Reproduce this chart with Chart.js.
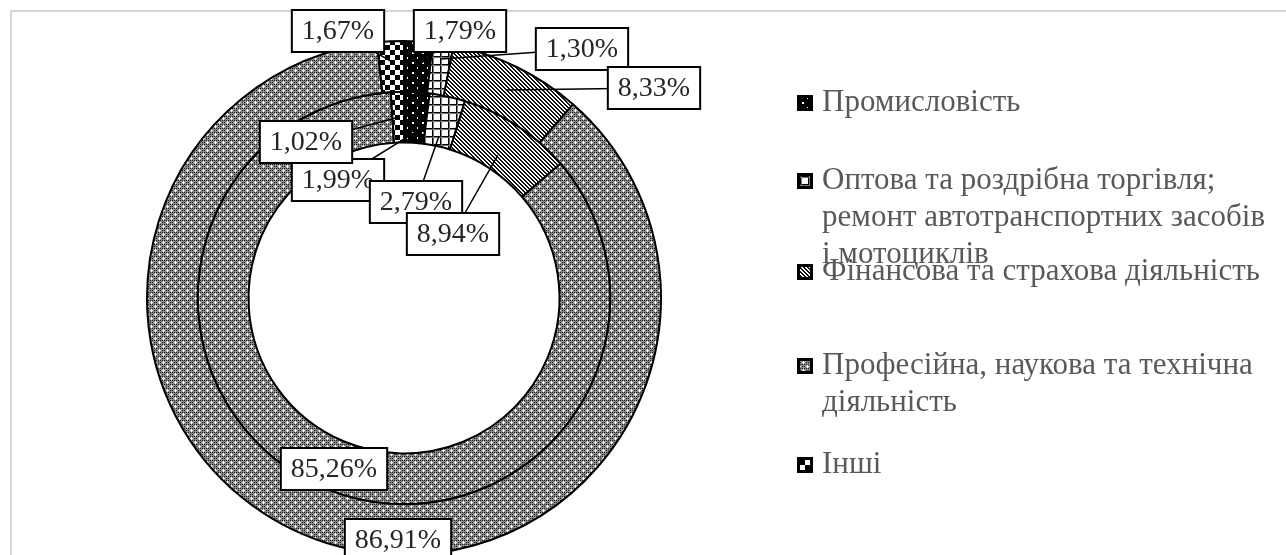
<!DOCTYPE html>
<html>
<head>
<meta charset="utf-8">
<script src="https://cdn.jsdelivr.net/npm/chart.js@4.4.0/dist/chart.umd.min.js"></script>
<style>
  html, body { margin: 0; padding: 0; background: #fff; overflow: hidden; }
  #wrap { position: relative; width: 1286px; height: 555px; overflow: hidden; }
  #frame { position: absolute; left: 10px; top: 10px; width: 1300px; height: 600px; border: 2px solid #d6d6d6; }
  canvas { position: absolute; left: 0; top: 0; }
</style>
</head>
<body>
<div id="wrap">
  <div id="frame"></div>
  <canvas id="rings" width="1286" height="560"></canvas>
</div>
<script>
// дані
const categories = [
  'Промисловість',
  'Оптова та роздрібна торгівля; ремонт автотранспортних засобів і мотоциклів',
  'Фінансова та страхова діяльність',
  'Професійна, наукова та технічна діяльність',
  'Інші'
];
const outerValues = [1.79, 1.30, 8.33, 86.91, 1.67];
const innerValues = [1.99, 2.79, 8.94, 85.26, 1.02];

// рядки легенди (як переноситься текст у оригіналі)
const legendLines = [
  ['Промисловість'],
  ['Оптова та роздрібна торгівля;', 'ремонт автотранспортних засобів', 'і мотоциклів'],
  ['Фінансова та страхова діяльність'],
  ['Професійна, наукова та технічна', 'діяльність'],
  ['Інші']
];

// штрихування секторів
function tile(w, h, draw) {
  const c = document.createElement('canvas');
  c.width = w; c.height = h;
  draw(c.getContext('2d'));
  return c;
}
const pctx = document.createElement('canvas').getContext('2d');
const tiles = [
  tile(10, 10, g => { // чорний з білими крапками
    g.fillStyle = '#000'; g.fillRect(0, 0, 10, 10);
    g.fillStyle = '#fff'; g.fillRect(2, 2, 2, 2); g.fillRect(7, 7, 1, 2);
  }),
  tile(8, 8, g => { // сітка
    g.fillStyle = '#fff'; g.fillRect(0, 0, 8, 8);
    g.fillStyle = '#000'; g.fillRect(0, 0, 8, 1); g.fillRect(0, 0, 1, 8);
    g.fillStyle = '#777'; g.fillRect(0, 1, 8, 1); g.fillRect(1, 0, 1, 8);
  }),
  tile(4, 4, g => { // діагональ
    g.fillStyle = '#fff'; g.fillRect(0, 0, 4, 4);
    g.fillStyle = '#111';
    for (let x = 0; x < 4; x++) for (let y = 0; y < 4; y++) {
      if (((x - y + 8) % 4) < 2) g.fillRect(x, y, 1, 1);
    }
  }),
  tile(8, 8, g => { // сірий дрібний
    g.fillStyle = '#8a8a8a'; g.fillRect(0, 0, 8, 8);
    g.fillStyle = '#222';
    for (let x = 0; x < 8; x += 2) for (let y = 0; y < 8; y += 2) g.fillRect(x, y, 1, 1);
    g.fillStyle = '#fff';
    g.fillRect(3, 1, 1, 3); g.fillRect(7, 5, 1, 3);
    g.fillStyle = '#ddd';
    g.fillRect(2, 2, 1, 1); g.fillRect(4, 2, 1, 1); g.fillRect(6, 6, 1, 1); g.fillRect(0, 6, 1, 1);
  }),
  tile(10, 10, g => { // шахівниця
    g.fillStyle = '#fff'; g.fillRect(0, 0, 10, 10);
    g.fillStyle = '#000'; g.fillRect(0, 0, 5, 5); g.fillRect(5, 5, 5, 5);
  })
];
const patterns = tiles.map(t => pctx.createPattern(t, 'repeat'));

// розміщення підписів відносно центру кола
const labelPlaces = [
  [ // зовнішнє кільце
    { dx: 56, dy: -267, f: 0.5, lead: true },
    { dx: 178, dy: -249, f: 0.7, lead: true },
    { dx: 250, dy: -210, f: 0.5, lead: true },
    { dx: -6, dy: 242, f: 0.5, lead: false },
    { dx: -66, dy: -267, f: 0.6, lead: true }
  ],
  [ // внутрішнє кільце
    { dx: -66, dy: -118, f: 0.2, lead: true },
    { dx: 12, dy: -96, f: 0.2, lead: true },
    { dx: 49, dy: -64, f: 0.3, lead: true },
    { dx: -70, dy: 171, f: 0.5, lead: false },
    { dx: -98, dy: -156, f: 0.5, lead: true }
  ]
];

const ringLabels = {
  id: 'ringLabels',
  afterDatasetsDraw(chart) {
    const ctx = chart.ctx;
    ctx.save();
    ctx.font = '28px "Liberation Serif", "Times New Roman", serif';
    ctx.textAlign = 'center';
    ctx.textBaseline = 'middle';
    chart.data.datasets.forEach((ds, di) => {
      const meta = chart.getDatasetMeta(di);
      meta.data.forEach((arc, i) => {
        const p = arc.getProps(['x', 'y', 'startAngle', 'endAngle', 'innerRadius', 'outerRadius'], true);
        const place = labelPlaces[di][i];
        const mid = (p.startAngle + p.endAngle) / 2;
        const r = p.innerRadius + (p.outerRadius - p.innerRadius) * place.f;
        const ax = p.x + Math.cos(mid) * r;
        const ay = p.y + Math.sin(mid) * r;
        const bx = p.x + place.dx;
        const by = p.y + place.dy;
        const text = ds.data[i].toFixed(2).replace('.', ',') + '%';
        const w = ctx.measureText(text).width + 20;
        const h = 42;
        if (place.lead) {
          ctx.strokeStyle = '#000';
          ctx.lineWidth = 1.5;
          ctx.beginPath();
          ctx.moveTo(bx, by);
          ctx.lineTo(ax, ay);
          ctx.stroke();
        }
        ctx.fillStyle = '#fff';
        ctx.fillRect(bx - w / 2, by - h / 2, w, h);
        ctx.strokeStyle = '#000';
        ctx.lineWidth = 2;
        ctx.strokeRect(bx - w / 2, by - h / 2, w, h);
        ctx.fillStyle = '#262626';
        ctx.fillText(text, bx, by + 1);
      });
    });
    ctx.restore();
  }
};

const legendTop = [103, 181, 272, 366, 465];
const sideLegend = {
  id: 'sideLegend',
  afterDraw(chart) {
    const ctx = chart.ctx;
    ctx.save();
    ctx.font = '31px "Liberation Serif", "Times New Roman", serif';
    ctx.textAlign = 'left';
    ctx.textBaseline = 'middle';
    legendLines.forEach((lines, i) => {
      const y0 = legendTop[i];
      // маркер: чорний квадрат з візерунком усередині
      ctx.fillStyle = '#000';
      ctx.fillRect(797, y0 - 8, 16, 16);
      ctx.fillStyle = patterns[i];
      ctx.fillRect(800, y0 - 5, 10, 10);
      ctx.fillStyle = '#595959';
      lines.forEach((ln, k) => ctx.fillText(ln, 822, y0 + k * 37));
    });
    ctx.restore();
  }
};

const ctx = document.getElementById('rings').getContext('2d');
new Chart(ctx, {
  type: 'doughnut',
  data: {
    labels: categories,
    datasets: [
      { data: outerValues, backgroundColor: patterns, borderColor: '#000', borderWidth: 2, hoverOffset: 0 },
      { data: innerValues, backgroundColor: patterns, borderColor: '#000', borderWidth: 2, hoverOffset: 0 }
    ]
  },
  options: {
    responsive: false,
    animation: false,
    events: [],
    cutout: '60.5%',
    layout: { padding: { left: 146, right: 624, top: 40, bottom: 4 } },
    plugins: {
      legend: { display: false },
      tooltip: { enabled: false }
    }
  },
  plugins: [ringLabels, sideLegend]
});
</script>
</body>
</html>
